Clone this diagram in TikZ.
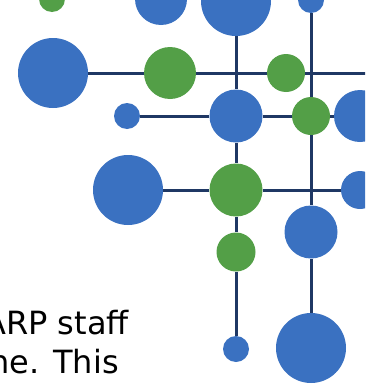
\documentclass[tikz,border=0pt]{standalone}
\usepackage{fontspec}
\setmainfont{DejaVu Sans}
\definecolor{dotblue}{HTML}{3A71C1}
\definecolor{dotgreen}{HTML}{539F47}
\definecolor{navy}{HTML}{1F3864}
\begin{document}
\begin{tikzpicture}[x=1pt,y=-1pt,
  dot/.style={circle,inner sep=0pt,minimum size=#1},
  bdot/.style={dot=#1,fill=dotblue},
  gdot/.style={dot=#1,fill=dotgreen},
  wire/.style={draw=navy,line width=3pt},
  txt/.style={font=\fontsize{32}{40}\selectfont,text=black,inner sep=0pt}]
\useasboundingbox (0,0) rectangle (365,391);
\clip (0,0) rectangle (365,391);
% nodes
\node[gdot=26] (g0) at (52,-1) {};
\node[bdot=52] (b0) at (161,-1) {};
\node[bdot=70] (t1) at (236,1) {};
\node[bdot=26] (t2) at (311,0) {};
\node[bdot=70] (l1) at (53,73) {};
\node[gdot=52] (g1) at (170,73) {};
\node[gdot=38] (g2) at (286,73) {};
\coordinate (r1) at (370,73);
\node[bdot=26] (s2) at (127,116) {};
\node[bdot=53] (c2) at (236,116) {};
\node[gdot=38] (g3) at (311,116) {};
\node[bdot=52] (r2) at (360,116) {};
\node[bdot=70] (l3) at (128,190) {};
\node[gdot=53] (g4) at (236,190) {};
\node[bdot=38] (r3) at (360,190) {};
\node[bdot=53] (b5) at (311,232) {};
\node[gdot=39] (g5) at (236,252) {};
\node[bdot=26] (s6) at (236,349) {};
\node[bdot=70] (b6) at (311,348) {};
% connectors
\draw[wire] (l1) -- (g1) -- (g2) -- (r1);
\draw[wire] (s2) -- (c2) -- (g3) -- (r2);
\draw[wire] (l3) -- (g4) -- (r3);
\draw[wire] (t1) -- (c2) -- (g4) -- (g5) -- (s6);
\draw[wire] (t2) -- (g3) -- (b5) -- (b6);
% text
\node[txt,anchor=base east] (line1) at (129,334) {ARP staff};
\node[txt,anchor=base east] (line2) at (119,373) {ne. This};
\end{tikzpicture}
\end{document}
